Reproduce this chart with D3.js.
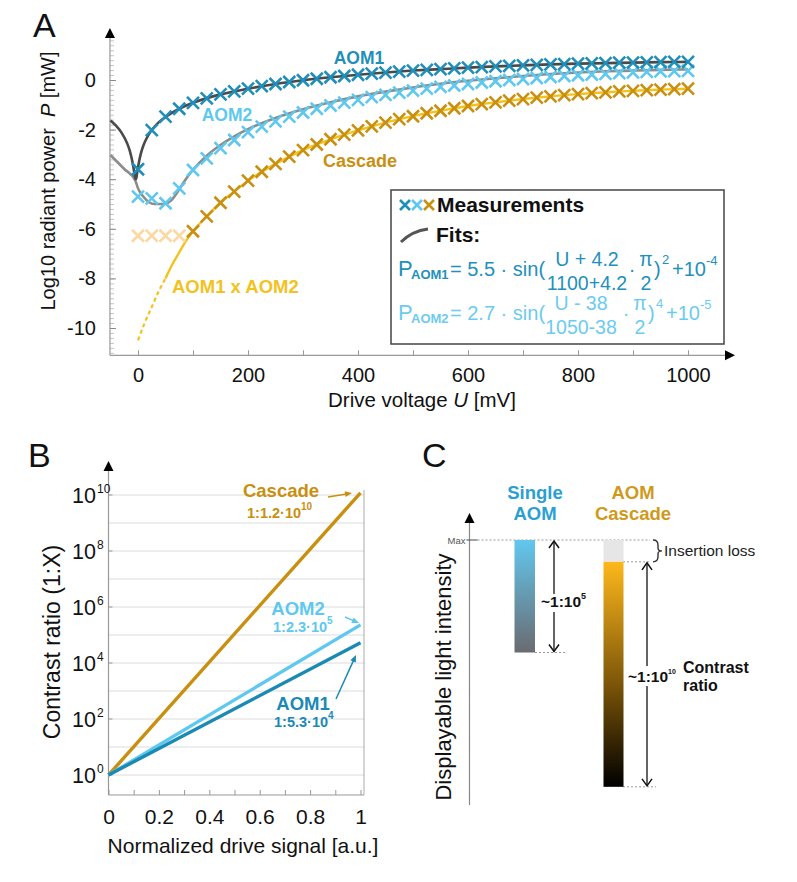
<!DOCTYPE html>
<html><head><meta charset="utf-8">
<script src="https://cdn.jsdelivr.net/npm/d3@7"></script>
<style>
body{margin:0;background:#fff;}
svg{display:block;font-family:"Liberation Sans",Arial,Helvetica,sans-serif;}
</style></head><body>
<svg id="chart" width="797" height="882"></svg>
<script>
// ---------------- DATA ----------------
// Panel A: measurements (drive voltage in mV, log10 power in mW)
const measU = [0,25,50,75,100,125,150,175,200,225,250,275,300,325,350,375,400,425,450,475,500,525,550,575,600,625,650,675,700,725,750,775,800,825,850,875,900,925,950,975,1000];
const aom1Meas = [-3.60,-2.02,-1.48,-1.16,-0.92,-0.74,-0.58,-0.46,-0.35,-0.25,-0.16,-0.08,-0.01,0.05,0.11,0.16,0.21,0.26,0.30,0.34,0.38,0.41,0.44,0.47,0.50,0.52,0.55,0.57,0.59,0.61,0.63,0.64,0.66,0.67,0.68,0.70,0.70,0.71,0.72,0.73,0.73];
const aom2Meas = [-4.70,-4.77,-4.97,-4.37,-3.63,-3.16,-2.75,-2.42,-2.10,-1.88,-1.67,-1.48,-1.31,-1.16,-1.03,-0.91,-0.80,-0.69,-0.60,-0.51,-0.43,-0.35,-0.28,-0.22,-0.16,-0.10,-0.05,0.00,0.04,0.08,0.12,0.16,0.19,0.22,0.25,0.28,0.31,0.33,0.35,0.36,0.37];
const cascadeMeas = [-6.28,-6.28,-6.28,-6.28,-6.10,-5.50,-4.95,-4.50,-4.06,-3.70,-3.38,-3.09,-2.83,-2.60,-2.39,-2.20,-2.03,-1.87,-1.72,-1.58,-1.46,-1.34,-1.24,-1.14,-1.05,-0.97,-0.90,-0.83,-0.77,-0.71,-0.66,-0.61,-0.57,-0.53,-0.50,-0.46,-0.44,-0.41,-0.39,-0.37,-0.35];
const cascadeFaintCount = 4; // first points drawn pale (below noise floor)
// Panel A: fit curves
const aom1FitU = [-50,-40,-30,-20,-15,-10,-7,-5,-4.2,-3,-2,0,5,10,15,20,25,37.5,50,75,100,150,200,250,300,350,400,450,500,550,600,650,700,750,800,850,900,950,1000];
const aom1FitV = [-1.63,-1.84,-2.12,-2.54,-2.85,-3.32,-3.70,-3.95,-4.00,-3.95,-3.81,-3.53,-2.98,-2.63,-2.38,-2.18,-2.02,-1.71,-1.49,-1.16,-0.92,-0.58,-0.35,-0.16,-0.01,0.11,0.21,0.30,0.38,0.44,0.50,0.55,0.59,0.63,0.66,0.68,0.70,0.72,0.73];
const aom2FitU = [-50,-25,-5,0,10,20,30,38,45,50,60,75,87.5,100,125,150,175,200,250,300,350,400,450,500,550,600,650,700,750,800,850,900,950,1000];
const aom2FitV = [-3.03,-3.59,-4.05,-4.37,-4.71,-4.93,-5.00,-5.00,-5.00,-4.99,-4.86,-4.41,-3.98,-3.62,-3.05,-2.62,-2.27,-1.98,-1.53,-1.18,-0.90,-0.66,-0.47,-0.30,-0.15,-0.03,0.07,0.16,0.24,0.30,0.35,0.38,0.41,0.43];
// Panel A: product curve AOM1 x AOM2 (dashed part, then solid part)
const productDashU = [0,12,25,37,50];
const productDashV = [-10.50,-9.80,-9.15,-8.55,-8.00];
const productSolidU = [50,62,75,87,100,125,150,175,200,225,250,275,300,325,350,375,400,425,450,475,500,525,550,575,600,625,650,675,700,725,750,775,800,825,850,875,900,925,950,975,1000];
const productSolidV = [-8.00,-7.45,-6.95,-6.50,-6.10,-5.50,-4.95,-4.50,-4.06,-3.70,-3.38,-3.09,-2.83,-2.60,-2.39,-2.20,-2.03,-1.87,-1.72,-1.58,-1.46,-1.34,-1.24,-1.14,-1.05,-0.97,-0.90,-0.83,-0.77,-0.71,-0.66,-0.61,-0.57,-0.53,-0.50,-0.46,-0.44,-0.41,-0.39,-0.37,-0.35];
const xTicksA = [0,200,400,600,800,1000];
const yTicksA = [0,-2,-4,-6,-8,-10];

// Panel B: contrast ratio vs normalized drive signal
const ratioNames = ["Cascade","AOM2","AOM1"];
const ratioStart = [1,1,1];
const ratioEnd = [1.2e10,2.3e5,5.3e4];
const ratioLabels = [["1:1.2·10","10"],["1:2.3·10","5"],["1:5.3·10","4"]];
const xTicksB = [0,0.2,0.4,0.6,0.8,1];
const yExpB = [0,2,4,6,8,10];

// Panel C: schematic decades
const singleRangeDec = [0,-5];
const insertionDec = [0,-0.97];
const cascadeRangeDec = [-0.97,-10.97];

// ---------------- COLORS ----------------
const C_AOM1 = "#1f8fba", C_AOM2 = "#5ec8ef", C_CAS = "#c98f10", C_CAS_FAINT = "#fcd9a4", C_PROD = "#f2c21e";
const C_FIT1 = "#4a4a4a", C_FIT2 = "#8c8c8c";

const svg = d3.select("#chart");
svg.append("rect").attr("width",797).attr("height",882).attr("fill","#fff");
const defs = svg.append("defs");

function triUp(x,y){ svg.append("path").attr("d",`M${x},${y}L${x-5},${y+10}L${x+5},${y+10}Z`).attr("fill","#000"); }
function triRight(x,y){ svg.append("path").attr("d",`M${x},${y}L${x-10},${y-5}L${x-10},${y+5}Z`).attr("fill","#000"); }
function letter(t,x,y){ svg.append("text").attr("x",x).attr("y",y).attr("font-size",34).attr("fill","#111").text(t); }

// ================= PANEL A =================
const xA = d3.scaleLinear().domain([0,1000]).range([138,688]);
const yA = d3.scaleLinear().domain([0,-10]).range([80,328]);
const A_bottom = yA(-11.1), A_left = xA(-51);
letter("A",33,37);

const gA = svg.append("g");
// minor y ticks
const yMinor = [];
for(let i=-55;i<=8;i++) yMinor.push(i/5);
gA.append("g").attr("transform",`translate(${A_left},0)`)
  .call(d3.axisLeft(yA).tickValues(yMinor).tickSize(-4).tickFormat(""))
  .call(g=>{g.select(".domain").remove(); g.selectAll("line").attr("stroke","#b5b5b5").attr("stroke-width",0.8);});
gA.append("g").attr("transform",`translate(${A_left},0)`)
  .call(d3.axisLeft(yA).tickValues(yTicksA).tickSize(-6).tickPadding(14).tickFormat(d=>d===0?"0":String(d)))
  .call(g=>{g.select(".domain").remove(); g.selectAll("line").attr("stroke","#888");
    g.selectAll("text").attr("font-size",20).attr("fill","#111").attr("font-family","Liberation Sans, Arial, sans-serif");});
// x ticks
gA.append("g").attr("transform",`translate(0,${A_bottom})`)
  .call(d3.axisBottom(xA).tickValues([0,100,200,300,400,500,600,700,800,900,1000]).tickSize(-5).tickPadding(13)
    .tickFormat(d=>xTicksA.includes(d)?String(d):""))
  .call(g=>{g.select(".domain").remove(); g.selectAll("line").attr("stroke","#999");
    g.selectAll("text").attr("font-size",20).attr("fill","#111").attr("font-family","Liberation Sans, Arial, sans-serif");});
// axis lines
gA.append("line").attr("x1",A_left).attr("x2",A_left).attr("y1",A_bottom).attr("y2",38).attr("stroke","#999").attr("stroke-width",1.2);
gA.append("line").attr("x1",A_left).attr("x2",725).attr("y1",A_bottom).attr("y2",A_bottom).attr("stroke","#999").attr("stroke-width",1.2);
triUp(A_left,28); triRight(735,A_bottom);

// axis titles
svg.append("text").attr("transform",`translate(55,181) rotate(-90)`).attr("text-anchor","middle")
  .attr("font-size",20).attr("fill","#111").style("white-space","pre")
  .call(t=>{t.append("tspan").text("Log10 radiant power  "); t.append("tspan").attr("font-style","italic").text("P"); t.append("tspan").text(" [mW]");});
svg.append("text").attr("x",422).attr("y",407).attr("text-anchor","middle").attr("font-size",20.5).attr("fill","#111").style("white-space","pre")
  .call(t=>{t.append("tspan").text("Drive voltage "); t.append("tspan").attr("font-style","italic").text("U"); t.append("tspan").text(" [mV]");});

const lineA = d3.line().x(d=>xA(d[0])).y(d=>yA(d[1])).curve(d3.curveMonotoneX);
const zip = (a,b)=>a.map((v,i)=>[v,b[i]]);

// fits
gA.append("path").attr("d",lineA(zip(aom2FitU,aom2FitV))).attr("fill","none").attr("stroke",C_FIT2).attr("stroke-width",2.6);
gA.append("path").attr("d",lineA(zip(aom1FitU,aom1FitV))).attr("fill","none").attr("stroke",C_FIT1).attr("stroke-width",2.6);
// product line
gA.append("path").attr("d",lineA(zip(productDashU,productDashV))).attr("fill","none").attr("stroke",C_PROD).attr("stroke-width",2.2).attr("stroke-dasharray","4,3");
gA.append("path").attr("d",lineA(zip(productSolidU,productSolidV))).attr("fill","none").attr("stroke",C_PROD).attr("stroke-width",2.4);

function crosses(vals,color,filterFn){
  const pts = zip(measU,vals).filter((d,i)=>filterFn?filterFn(i):true);
  gA.append("g").selectAll("path").data(pts).join("path")
    .attr("transform",d=>`translate(${xA(d[0])},${yA(d[1])})`)
    .attr("d","M-6,-6L6,6M-6,6L6,-6").attr("stroke",color)
    .attr("stroke-width",2.6).attr("fill","none");
}
crosses(cascadeMeas,C_CAS_FAINT,i=>i<cascadeFaintCount);
crosses(cascadeMeas,C_CAS,i=>i>=cascadeFaintCount);
crosses(aom2Meas,C_AOM2);
crosses(aom1Meas,C_AOM1);

// series labels
const lab = (t,x,y,c,anchor="middle",size=17.5)=>svg.append("text").attr("x",x).attr("y",y).attr("text-anchor",anchor)
  .attr("font-size",size).attr("font-weight","bold").attr("fill",c).text(t);
lab("AOM1",359,64,C_AOM1);
lab("AOM2",227,121,C_AOM2);
lab("Cascade",323,167,C_CAS,"start",18);
lab("AOM1 x AOM2",172,293,C_PROD,"start",18.5);

// legend box
const lg = svg.append("g");
lg.append("rect").attr("x",391).attr("y",190).attr("width",333).attr("height",154).attr("fill","#fff").attr("stroke","#444").attr("stroke-width",1.5);
[[405,C_AOM1],[417,C_AOM2],[429,C_CAS]].forEach(([x,c])=>{
  lg.append("path").attr("transform",`translate(${x},205)`).attr("d","M-5,-5L5,5M-5,5L5,-5").attr("stroke",c).attr("stroke-width",2.6);
});
lg.append("text").attr("x",437).attr("y",212).attr("font-size",21).attr("font-weight","bold").attr("fill","#111").text("Measurements");
lg.append("path").attr("d","M401,242 Q412,231 428,229").attr("fill","none").attr("stroke","#555").attr("stroke-width",3);
lg.append("text").attr("x",436).attr("y",242).attr("font-size",21).attr("font-weight","bold").attr("fill","#111").text("Fits:");

function formula(y0,color,sub,coef,num,den,exp,floorExp,numCx){
  const g = lg.append("g").attr("fill",color);
  g.append("text").attr("x",398).attr("y",y0).attr("font-size",22).text("P");
  g.append("text").attr("x",411).attr("y",y0+3).attr("font-size",13).attr("font-weight","bold").text(sub);
  g.append("text").attr("x",450).attr("y",y0).attr("font-size",20).style("white-space","pre").text("= "+coef+" · sin(");
  g.append("text").attr("x",numCx).attr("y",y0-10).attr("font-size",19.5).attr("text-anchor","middle").style("white-space","pre").text(num);
  g.append("text").attr("x",numCx).attr("y",y0+14).attr("font-size",19.5).attr("text-anchor","middle").text(den);
  g.append("text").attr("x",numCx+45).attr("y",y0).attr("font-size",20).attr("text-anchor","middle").text("·");
  g.append("text").attr("x",numCx+59).attr("y",y0-10).attr("font-size",19.5).attr("text-anchor","middle").text("π");
  g.append("text").attr("x",numCx+59).attr("y",y0+14).attr("font-size",19.5).attr("text-anchor","middle").text("2");
  g.append("text").attr("x",numCx+67).attr("y",y0).attr("font-size",20).text(")");
  g.append("text").attr("x",numCx+75).attr("y",y0-12).attr("font-size",13).text(exp);
  g.append("text").attr("x",numCx+85).attr("y",y0).attr("font-size",20).text("+10");
  g.append("text").attr("x",numCx+119).attr("y",y0-11).attr("font-size",13).text(floorExp);
}
formula(276,"#2390bb","AOM1","5.5","U + 4.2","1100+4.2","2","-4",587);
formula(320,"#6dcbef","AOM2","2.7","U - 38","1050-38","4","-5",581);

// ================= PANEL B =================
letter("B",28,467);
const xB = d3.scaleLinear().domain([0,1]).range([108.5,360.5]);
const yB = d3.scaleLog().domain([1,1e10]).range([775,495]);
const B_bottom = 795, B_right = 364;
const gB = svg.append("g");
// grid
gB.append("g").selectAll("line").data(d3.range(0,11).map(e=>Math.pow(10,e))).join("line")
  .attr("x1",xB(0)).attr("x2",B_right).attr("y1",d=>yB(d)).attr("y2",d=>yB(d)).attr("stroke","#dcdcdc").attr("stroke-width",1);
gB.append("line").attr("x1",B_right).attr("x2",B_right).attr("y1",B_bottom).attr("y2",490).attr("stroke","#aaa");
// x axis
gB.append("g").attr("transform",`translate(0,${B_bottom})`)
  .call(d3.axisBottom(xB).tickValues([0,0.1,0.2,0.3,0.4,0.5,0.6,0.7,0.8,0.9,1]).tickSize(-5).tickPadding(14)
     .tickFormat(d=>xTicksB.some(v=>Math.abs(v-d)<1e-9)?(d===0?"0":d===1?"1":String(+d.toFixed(1))):""))
  .call(g=>{g.select(".domain").remove(); g.selectAll("line").attr("stroke","#999");
    g.selectAll("text").attr("font-size",21).attr("fill","#111").attr("font-family","Liberation Sans, Arial, sans-serif");});
gB.append("line").attr("x1",xB(0)).attr("x2",B_right).attr("y1",B_bottom).attr("y2",B_bottom).attr("stroke","#999").attr("stroke-width",1.2);
gB.append("line").attr("x1",xB(0)).attr("x2",xB(0)).attr("y1",B_bottom).attr("y2",470).attr("stroke","#999").attr("stroke-width",1.2);
triUp(xB(0),461);
// y tick labels
yExpB.forEach(e=>{
  const y = yB(Math.pow(10,e));
  gB.append("line").attr("x1",xB(0)).attr("x2",xB(0)+4).attr("y1",y).attr("y2",y).attr("stroke","#999");
  gB.append("text").attr("x",96).attr("y",y+8).attr("text-anchor","end").attr("font-size",21.5).attr("fill","#111").text("10");
  gB.append("text").attr("x",97).attr("y",y-2).attr("font-size",12).attr("fill","#111").text(e);
});
svg.append("text").attr("transform","translate(60,642) rotate(-90)").attr("text-anchor","middle").attr("font-size",23).attr("fill","#111").text("Contrast ratio (1:X)");
svg.append("text").attr("x",243).attr("y",853).attr("text-anchor","middle").attr("font-size",21).attr("fill","#111").text("Normalized drive signal [a.u.]");
// lines
const lineB = d3.line().x(d=>xB(d[0])).y(d=>yB(d[1]));
const colB = {"Cascade":C_CAS,"AOM2":C_AOM2,"AOM1":"#1a8ab5"};
ratioNames.forEach((n,i)=>{
  gB.append("path").attr("d",lineB([[0,ratioStart[i]],[1,ratioEnd[i]]])).attr("fill","none").attr("stroke",colB[n]).attr("stroke-width",3.4);
});
// annotations
const annB = [
  {n:"Cascade",x:281,y:497,ly:518,lx:247,arrow:[328,497,352,493]},
  {n:"AOM2",x:298,y:615,ly:632,lx:273,arrow:[345,617,359,623]},
  {n:"AOM1",x:303,y:710,ly:727,lx:274,arrow:[336,699,356,655]}
];
annB.forEach((a,i)=>{
  const c = colB[a.n];
  gB.append("text").attr("x",a.x).attr("y",a.y).attr("text-anchor","middle").attr("font-size",18.5).attr("font-weight","bold").attr("fill",c).text(a.n);
  const t = gB.append("text").attr("x",a.lx).attr("y",a.ly).attr("font-size",14.5).attr("font-weight","bold").attr("fill",c);
  t.append("tspan").text(ratioLabels[i][0]);
  t.append("tspan").attr("dy",-8).attr("font-size",10).text(ratioLabels[i][1]);
  const [x1,y1,x2,y2] = a.arrow;
  const ang = Math.atan2(y2-y1,x2-x1);
  gB.append("line").attr("x1",x1).attr("y1",y1).attr("x2",x2-4*Math.cos(ang)).attr("y2",y2-4*Math.sin(ang)).attr("stroke",c).attr("stroke-width",1.5);
  const hx = x2, hy = y2, L=7, W=3;
  const bx = hx - L*Math.cos(ang), by = hy - L*Math.sin(ang);
  gB.append("path").attr("d",`M${hx},${hy}L${bx - W*Math.sin(ang)},${by + W*Math.cos(ang)}L${bx + W*Math.sin(ang)},${by - W*Math.cos(ang)}Z`).attr("fill",c);
});

// ================= PANEL C =================
letter("C",422,467);
const yC = d3.scaleLinear().domain([0,-1]).range([540,562.5]);
const axC = 469.5;
const gC = svg.append("g");
gC.append("line").attr("x1",axC).attr("x2",axC).attr("y1",805).attr("y2",522).attr("stroke","#888").attr("stroke-width",1.2);
triUp(axC,513);
gC.append("line").attr("x1",axC-3).attr("x2",axC+8).attr("y1",yC(0)).attr("y2",yC(0)).attr("stroke","#666").attr("stroke-width",1.2);
gC.append("text").attr("x",axC-4).attr("y",yC(0)+3.5).attr("text-anchor","end").attr("font-size",9.5).attr("fill","#555").text("Max");
svg.append("text").attr("transform","translate(451,677) rotate(-90)").attr("text-anchor","middle").attr("font-size",22).attr("fill","#111").text("Displayable light intensity");

const gs = defs.append("linearGradient").attr("id","gSingle").attr("x1",0).attr("x2",0).attr("y1",0).attr("y2",1);
gs.append("stop").attr("offset","0%").attr("stop-color","#62c7ee");
gs.append("stop").attr("offset","100%").attr("stop-color","#6a6b70");
const gc = defs.append("linearGradient").attr("id","gCas").attr("x1",0).attr("x2",0).attr("y1",0).attr("y2",1);
gc.append("stop").attr("offset","0%").attr("stop-color","#fdb81c");
gc.append("stop").attr("offset","55%").attr("stop-color","#7a5408");
gc.append("stop").attr("offset","100%").attr("stop-color","#000");

// dotted guide lines
const dot = (x1,x2,y)=>gC.append("line").attr("x1",x1).attr("x2",x2).attr("y1",y).attr("y2",y).attr("stroke","#999").attr("stroke-width",1).attr("stroke-dasharray","2,2");
dot(axC+8,650,yC(0));
dot(535,567,yC(singleRangeDec[1]));
dot(623,650,yC(cascadeRangeDec[0]));
dot(623,656,yC(cascadeRangeDec[1]));

// bars
gC.append("rect").attr("x",514.5).attr("width",20.5).attr("y",yC(singleRangeDec[0])).attr("height",yC(singleRangeDec[1])-yC(singleRangeDec[0])).attr("fill","url(#gSingle)");
gC.append("rect").attr("x",603.5).attr("width",20).attr("y",yC(insertionDec[0])).attr("height",yC(insertionDec[1])-yC(insertionDec[0])).attr("fill","#e6e6e6");
gC.append("rect").attr("x",603.5).attr("width",20).attr("y",yC(cascadeRangeDec[0])).attr("height",yC(cascadeRangeDec[1])-yC(cascadeRangeDec[0])).attr("fill","url(#gCas)");

// titles
const tC = (lines,x,c)=>lines.forEach((s,i)=>gC.append("text").attr("x",x).attr("y",499+i*21).attr("text-anchor","middle").attr("font-size",18.5).attr("font-weight","bold").attr("fill",c).text(s));
tC(["Single","AOM"],535,"#2aa0d2");
tC(["AOM","Cascade"],633,"#cf991b");

// double arrows
function dblArrow(x,y1,y2,gap1,gap2){
  gC.append("line").attr("x1",x).attr("x2",x).attr("y1",y1+1).attr("y2",gap1).attr("stroke","#111").attr("stroke-width",1.3);
  gC.append("line").attr("x1",x).attr("x2",x).attr("y1",gap2).attr("y2",y2-1).attr("stroke","#111").attr("stroke-width",1.3);
  gC.append("path").attr("d",`M${x-5},${y1+8}L${x},${y1+1}L${x+5},${y1+8}`).attr("fill","none").attr("stroke","#111").attr("stroke-width",1.5);
  gC.append("path").attr("d",`M${x-5},${y2-8}L${x},${y2-1}L${x+5},${y2-8}`).attr("fill","none").attr("stroke","#111").attr("stroke-width",1.5);
}
dblArrow(554,yC(singleRangeDec[0]),yC(singleRangeDec[1]),594,612);
dblArrow(647,yC(cascadeRangeDec[0]),yC(cascadeRangeDec[1]),666,686);
// ratio labels
const rl = (x,y,base,sup,supSize)=>{
  const t = gC.append("text").attr("x",x).attr("y",y).attr("font-size",15.5).attr("font-weight","bold").attr("fill","#111");
  t.append("tspan").text(base);
  t.append("tspan").attr("dy",-8).attr("font-size",supSize).text(sup);
};
rl(541,607,"~1:10","5",9);
rl(628,682,"~1:10","10",7);
gC.append("text").attr("x",683).attr("y",673).attr("font-size",16).attr("font-weight","bold").attr("fill","#111").text("Contrast");
gC.append("text").attr("x",683).attr("y",691).attr("font-size",16).attr("font-weight","bold").attr("fill","#111").text("ratio");
// brace + insertion loss
const b0 = yC(insertionDec[0]), b1 = yC(insertionDec[1]), bm=(b0+b1)/2;
gC.append("path").attr("d",`M653,${b0} Q658,${b0} 658,${b0+5} L658,${bm-3} Q658,${bm} 662,${bm} Q658,${bm} 658,${bm+3} L658,${b1-5} Q658,${b1} 653,${b1}`)
  .attr("fill","none").attr("stroke","#333").attr("stroke-width",1.4);
gC.append("text").attr("x",664).attr("y",556).attr("font-size",15.5).attr("fill","#222").text("Insertion loss");
</script>
</body></html>
